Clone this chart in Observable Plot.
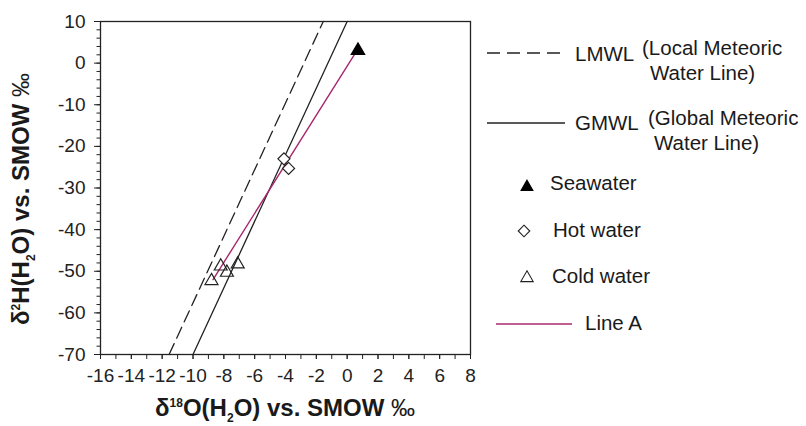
<!DOCTYPE html>
<html>
<head>
<meta charset="utf-8">
<script src="https://cdn.jsdelivr.net/npm/d3@7"></script>
<script src="https://cdn.jsdelivr.net/npm/@observablehq/plot@0.6"></script>
<style>
  body { margin: 0; background: #fff; font-family: "Liberation Sans", Arial, sans-serif; }
  #wrap { position: relative; width: 806px; height: 426px; overflow: hidden; }
  .t { position: absolute; white-space: nowrap; color: #1a1a1a; line-height: 1; }
  .title { font-weight: bold; font-size: 24px; }
  .title sup, .title sub { font-size: 12px; line-height: 0; }
  .title .pm { font-weight: normal; }
  .lg { font-size: 20.5px; transform: translateY(-50%); }
  #legend { position: absolute; left: 0; top: 0; }
</style>
</head>
<body>
<div id="wrap"></div>
<script>
// ---- data ----
const xTicks = [-16, -14, -12, -10, -8, -6, -4, -2, 0, 2, 4, 6, 8];
const yTicks = [-70, -60, -50, -40, -30, -20, -10, 0, 10];

const lmwlX = [-11.55, -1.55];
const lmwlY = [-70, 10];
const gmwlX = [-10, 0];
const gmwlY = [-70, 10];
const lineAX = [-8.7, 0.55];
const lineAY = [-52, 2.5];

const seaX = [0.7];
const seaY = [3];
const hotX = [-4.1, -3.8];
const hotY = [-23, -25.3];
const coldX = [-8.8, -8.2, -7.8, -7.1];
const coldY = [-52.3, -48.8, -50.3, -48.3];

const legendLabels = ["LMWL", "GMWL", "Seawater", "Hot water", "Cold water", "Line A"];

const ink = "#222";
const magenta = "#a8286e";

const fmt = d => String(d);

const chart = Plot.plot({
  width: 806,
  height: 426,
  marginLeft: 100,
  marginRight: 336,
  marginTop: 21,
  marginBottom: 72,
  style: { fontFamily: "'Liberation Sans', Arial, sans-serif", color: ink, background: "#fff" },
  x: { domain: [-16, 8] },
  y: { domain: [-70, 10] },
  marks: [
    Plot.axisX({ ticks: d3.range(-16, 9, 1), tickSize: 5, tickFormat: () => "", label: null, stroke: ink }),
    Plot.axisX({ ticks: xTicks, tickSize: 5, tickPadding: 9, fontSize: 19, tickFormat: fmt, label: null, stroke: ink }),
    Plot.axisY({ ticks: d3.range(-70, 11, 2), tickSize: 3.5, tickFormat: () => "", label: null, stroke: ink }),
    Plot.axisY({ ticks: yTicks, tickSize: 6, tickPadding: 9, fontSize: 19, tickFormat: fmt, label: null, stroke: ink }),
    Plot.frame({ stroke: ink, strokeWidth: 1.3 }),
    Plot.line(lmwlX, { x: lmwlX, y: lmwlY, stroke: ink, strokeWidth: 1.3, strokeDasharray: "12,6" }),
    Plot.line(gmwlX, { x: gmwlX, y: gmwlY, stroke: ink, strokeWidth: 1.3 }),
    Plot.line(lineAX, { x: lineAX, y: lineAY, stroke: magenta, strokeWidth: 1.4 }),
    Plot.dot(coldX, { x: coldX, y: coldY, symbol: "triangle", r: 4.8, stroke: ink, strokeWidth: 1.2, fill: "none" }),
    Plot.dot(hotX, { x: hotX, y: hotY, symbol: "diamond2", r: 5.4, stroke: ink, strokeWidth: 1.2, fill: "#fff" }),
    Plot.dot(seaX, { x: seaX, y: seaY, symbol: "triangle", r: 4.8, fill: "#000", stroke: "#000" })
  ]
});

const wrap = document.getElementById("wrap");
wrap.appendChild(chart);

function addText(html, left, top, cls, extraStyle) {
  const d = document.createElement("div");
  d.className = "t " + cls;
  d.style.left = left + "px";
  d.style.top = top + "px";
  if (extraStyle) Object.assign(d.style, extraStyle);
  d.innerHTML = html;
  wrap.appendChild(d);
  return d;
}

// axis titles
addText("δ<sup>18</sup>O(H<sub>2</sub>O) vs. SMOW <span class='pm'>‰</span>", 285, 408, "title", { transform: "translate(-50%,-50%)" });
addText("δ<sup>2</sup>H(H<sub>2</sub>O) vs. SMOW <span class='pm'>‰</span>", 21, 199, "title", { transform: "translate(-50%,-50%) rotate(-90deg)" });

// legend symbols
const svgNS = "http://www.w3.org/2000/svg";
const lsvg = document.createElementNS(svgNS, "svg");
lsvg.setAttribute("width", 806);
lsvg.setAttribute("height", 426);
lsvg.id = "legend";
function sline(x1, x2, y, stroke, dash) {
  const l = document.createElementNS(svgNS, "line");
  l.setAttribute("x1", x1); l.setAttribute("x2", x2);
  l.setAttribute("y1", y); l.setAttribute("y2", y);
  l.setAttribute("stroke", stroke); l.setAttribute("stroke-width", 1.3);
  if (dash) l.setAttribute("stroke-dasharray", dash);
  lsvg.appendChild(l);
}
function ssym(type, r, cx, cy, fill, stroke) {
  const p = document.createElementNS(svgNS, "path");
  p.setAttribute("d", d3.symbol(type, r * r * Math.PI)());
  p.setAttribute("transform", `translate(${cx},${cy})`);
  p.setAttribute("fill", fill);
  p.setAttribute("stroke", stroke);
  p.setAttribute("stroke-width", 1.1);
  lsvg.appendChild(p);
}
sline(487, 565, 53, ink, "13,7");
sline(487, 565, 123, ink);
ssym(d3.symbolTriangle, 4.4, 527, 187, "#000", "#000");
ssym(d3.symbolDiamond2, 5.2, 524, 231, "#fff", ink);
ssym(d3.symbolTriangle, 4.6, 527, 278, "none", ink);
sline(496, 572, 324, magenta);
wrap.appendChild(lsvg);

// legend texts
addText(legendLabels[0], 575, 54, "lg");
addText("(Local Meteoric", 642, 48, "lg");
addText("Water Line)", 650, 73, "lg");
addText(legendLabels[1], 575, 123, "lg");
addText("(Global Meteoric", 648, 118, "lg");
addText("Water Line)", 654, 143, "lg");
addText(legendLabels[2], 550, 183, "lg");
addText(legendLabels[3], 553, 230, "lg");
addText(legendLabels[4], 552, 276, "lg");
addText(legendLabels[5], 585, 323, "lg");
</script>
</body>
</html>
